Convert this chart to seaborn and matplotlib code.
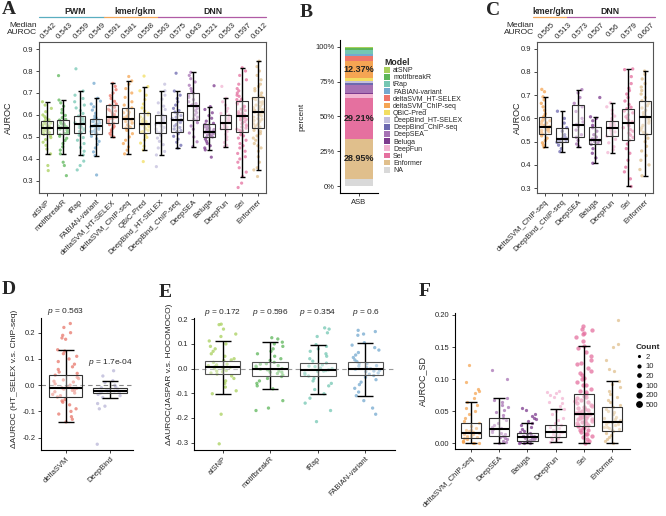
import numpy as np
import pandas as pd
import matplotlib.pyplot as plt
import seaborn as sns
from matplotlib.patches import Patch
from matplotlib.lines import Line2D
from matplotlib.transforms import blended_transform_factory
from matplotlib.ticker import FormatStrFormatter

sns.set_style('ticks')
plt.rcParams['font.family'] = ['Liberation Sans', 'DejaVu Sans']
plt.rcParams['mathtext.fontset'] = 'custom'
plt.rcParams['mathtext.it'] = 'Liberation Sans:italic'
plt.rcParams['mathtext.rm'] = 'Liberation Sans'

colors = {
    'atSNP': '#A8D05C', 'motifbreakR': '#5DB65A', 'tRap': '#74C7B3', 'FABIAN-variant': '#74A9CF',
    'deltaSVM_HT-SELEX': '#EE766A', 'deltaSVM_ChIP-seq': '#F5A553', 'QBiC-Pred': '#F2DE62',
    'DeepBind_HT-SELEX': '#C3BFDD', 'DeepBind_ChIP-seq': '#6C69AF', 'DeepSEA': '#A772B4',
    'Beluga': '#7D3B8E', 'DeepFun': '#F2B5D2', 'Sei': '#E5709F', 'Enformer': '#E0BF8C', 'NA': '#D9D9D9',
}

# ---------------- panel A: AUROC per model ----------------
a_models = ['atSNP', 'motifbreakR', 'tRap', 'FABIAN-variant', 'deltaSVM_HT-SELEX', 'deltaSVM_ChIP-seq',
            'QBiC-Pred', 'DeepBind_HT-SELEX', 'DeepBind_ChIP-seq', 'DeepSEA', 'Beluga', 'DeepFun', 'Sei', 'Enformer']
a_med = [0.542, 0.543, 0.559, 0.549, 0.591, 0.581, 0.558, 0.563, 0.575, 0.643, 0.521, 0.563, 0.597, 0.612]
a_q1 = [0.512, 0.512, 0.517, 0.512, 0.562, 0.540, 0.520, 0.517, 0.523, 0.577, 0.499, 0.535, 0.523, 0.541]
a_q3 = [0.573, 0.577, 0.595, 0.582, 0.644, 0.632, 0.608, 0.599, 0.613, 0.699, 0.558, 0.599, 0.662, 0.680]
a_lo = [0.423, 0.423, 0.418, 0.415, 0.500, 0.423, 0.441, 0.418, 0.449, 0.456, 0.441, 0.456, 0.320, 0.350]
a_hi = [0.660, 0.668, 0.709, 0.676, 0.744, 0.755, 0.729, 0.710, 0.709, 0.794, 0.638, 0.676, 0.815, 0.845]
a_points = {
    'atSNP': [0.66, 0.645, 0.63, 0.615, 0.60, 0.592, 0.585, 0.578, 0.573, 0.568, 0.563, 0.558, 0.553, 0.549, 0.546,
              0.544, 0.541, 0.537, 0.533, 0.529, 0.524, 0.519, 0.515, 0.512, 0.505, 0.497, 0.488, 0.476, 0.462,
              0.445, 0.423, 0.37, 0.347, 0.55, 0.535, 0.56, 0.52],
    'motifbreakR': [0.779, 0.668, 0.655, 0.64, 0.625, 0.61, 0.598, 0.588, 0.58, 0.577, 0.571, 0.565, 0.559, 0.554,
                    0.549, 0.546, 0.543, 0.539, 0.535, 0.53, 0.525, 0.52, 0.516, 0.512, 0.503, 0.494, 0.484, 0.47,
                    0.455, 0.44, 0.423, 0.385, 0.37, 0.324, 0.55, 0.532, 0.56, 0.52],
    'tRap': [0.81, 0.709, 0.69, 0.675, 0.66, 0.645, 0.632, 0.62, 0.607, 0.595, 0.588, 0.581, 0.574, 0.568, 0.562,
             0.559, 0.555, 0.549, 0.543, 0.537, 0.531, 0.525, 0.52, 0.517, 0.508, 0.497, 0.485, 0.47, 0.452, 0.435,
             0.418, 0.39, 0.37, 0.35, 0.565, 0.545, 0.58],
    'FABIAN-variant': [0.744, 0.676, 0.663, 0.65, 0.637, 0.622, 0.608, 0.595, 0.586, 0.582, 0.576, 0.57, 0.564,
                       0.558, 0.553, 0.549, 0.546, 0.541, 0.535, 0.529, 0.524, 0.519, 0.515, 0.512, 0.503, 0.492,
                       0.48, 0.466, 0.45, 0.432, 0.415, 0.327, 0.555, 0.54, 0.57, 0.525],
    'deltaSVM_HT-SELEX': [0.744, 0.73, 0.715, 0.70, 0.688, 0.675, 0.662, 0.65, 0.644, 0.635, 0.626, 0.618, 0.61,
                          0.602, 0.596, 0.593, 0.589, 0.583, 0.577, 0.571, 0.566, 0.562, 0.556, 0.548, 0.54, 0.532,
                          0.524, 0.516, 0.508, 0.50, 0.6, 0.585, 0.62],
    'deltaSVM_ChIP-seq': [0.775, 0.755, 0.74, 0.72, 0.70, 0.68, 0.66, 0.645, 0.632, 0.622, 0.612, 0.602, 0.594,
                          0.587, 0.583, 0.581, 0.577, 0.57, 0.562, 0.555, 0.548, 0.543, 0.54, 0.53, 0.515, 0.50,
                          0.485, 0.47, 0.455, 0.44, 0.423, 0.59, 0.565, 0.61],
    'QBiC-Pred': [0.777, 0.729, 0.71, 0.69, 0.67, 0.65, 0.632, 0.618, 0.608, 0.6, 0.591, 0.582, 0.574, 0.566, 0.56,
                  0.558, 0.555, 0.548, 0.542, 0.536, 0.53, 0.525, 0.521, 0.51, 0.498, 0.486, 0.472, 0.458, 0.441,
                  0.388, 0.57, 0.545],
    'DeepBind_HT-SELEX': [0.74, 0.71, 0.69, 0.672, 0.655, 0.64, 0.625, 0.61, 0.599, 0.592, 0.585, 0.578, 0.572,
                          0.567, 0.565, 0.562, 0.557, 0.55, 0.543, 0.536, 0.53, 0.524, 0.519, 0.508, 0.495, 0.48,
                          0.465, 0.45, 0.434, 0.418, 0.365],
    'DeepBind_ChIP-seq': [0.79, 0.709, 0.69, 0.675, 0.66, 0.645, 0.63, 0.62, 0.613, 0.605, 0.597, 0.59, 0.583,
                          0.578, 0.575, 0.571, 0.565, 0.557, 0.55, 0.543, 0.536, 0.529, 0.524, 0.515, 0.503, 0.49,
                          0.476, 0.462, 0.449],
    'DeepSEA': [0.794, 0.78, 0.765, 0.75, 0.735, 0.72, 0.708, 0.699, 0.69, 0.68, 0.67, 0.66, 0.652, 0.646, 0.643,
                0.638, 0.63, 0.62, 0.61, 0.6, 0.59, 0.582, 0.577, 0.565, 0.55, 0.535, 0.518, 0.5, 0.478, 0.456],
    'Beluga': [0.733, 0.638, 0.625, 0.61, 0.597, 0.585, 0.572, 0.562, 0.558, 0.552, 0.546, 0.54, 0.534, 0.529,
               0.525, 0.521, 0.518, 0.514, 0.51, 0.506, 0.503, 0.5, 0.499, 0.49, 0.48, 0.47, 0.46, 0.45, 0.441,
               0.408, 0.53, 0.515, 0.54],
    'DeepFun': [0.73, 0.676, 0.66, 0.645, 0.63, 0.617, 0.607, 0.599, 0.592, 0.585, 0.579, 0.574, 0.569, 0.565,
                0.563, 0.56, 0.556, 0.551, 0.546, 0.541, 0.537, 0.535, 0.525, 0.512, 0.5, 0.488, 0.475, 0.462,
                0.456],
    'Sei': [0.815, 0.80, 0.78, 0.76, 0.74, 0.72, 0.70, 0.685, 0.672, 0.662, 0.65, 0.638, 0.626, 0.615, 0.605, 0.6,
            0.597, 0.59, 0.578, 0.566, 0.555, 0.545, 0.535, 0.528, 0.523, 0.505, 0.485, 0.46, 0.435, 0.41, 0.385,
            0.36, 0.34, 0.32, 0.29, 0.27, 0.64, 0.61, 0.58, 0.56, 0.54, 0.62, 0.59, 0.67, 0.655, 0.63, 0.605,
            0.585, 0.57, 0.55, 0.53, 0.51, 0.495, 0.47, 0.45, 0.71, 0.69, 0.425, 0.4],
    'Enformer': [0.845, 0.82, 0.80, 0.78, 0.76, 0.74, 0.72, 0.70, 0.688, 0.68, 0.67, 0.658, 0.645, 0.633, 0.622,
                 0.615, 0.612, 0.605, 0.595, 0.583, 0.571, 0.56, 0.55, 0.541, 0.525, 0.505, 0.485, 0.46, 0.435,
                 0.41, 0.385, 0.36, 0.35, 0.32, 0.65, 0.63, 0.6, 0.58, 0.56, 0.62, 0.675, 0.66, 0.64, 0.625,
                 0.61, 0.59, 0.575, 0.555, 0.545, 0.53, 0.515, 0.495, 0.47, 0.73, 0.71, 0.45],
}

# ---------------- panel B: share of best model ----------------
b_models = ['atSNP', 'motifbreakR', 'tRap', 'FABIAN-variant', 'deltaSVM_HT-SELEX', 'deltaSVM_ChIP-seq',
            'QBiC-Pred', 'DeepBind_HT-SELEX', 'DeepBind_ChIP-seq', 'DeepSEA', 'Beluga', 'DeepFun', 'Sei',
            'Enformer', 'NA']
b_pct = [1.0, 1.5, 2.4, 1.7, 3.6, 12.37, 1.9, 1.2, 1.7, 5.5, 0.8, 3.1, 29.21, 28.95, 5.07]

# ---------------- panel C ----------------
c_models = ['deltaSVM_ChIP-seq', 'DeepBind_ChIP-seq', 'DeepSEA', 'Beluga', 'DeepFun', 'Sei', 'Enformer']
c_med = [0.565, 0.513, 0.573, 0.507, 0.56, 0.579, 0.607]
c_q1 = [0.533, 0.497, 0.519, 0.489, 0.524, 0.507, 0.531]
c_q3 = [0.604, 0.560, 0.656, 0.561, 0.590, 0.641, 0.676]
c_lo = [0.476, 0.457, 0.479, 0.407, 0.453, 0.307, 0.353]
c_hi = [0.693, 0.631, 0.724, 0.607, 0.667, 0.813, 0.804]
c_points = {
    'deltaSVM_ChIP-seq': [0.725, 0.715, 0.693, 0.68, 0.665, 0.65, 0.635, 0.62, 0.61, 0.604, 0.598, 0.592, 0.586,
                          0.58, 0.575, 0.57, 0.566, 0.563, 0.56, 0.556, 0.552, 0.548, 0.543, 0.538, 0.533, 0.525,
                          0.515, 0.505, 0.495, 0.485, 0.476, 0.57, 0.59, 0.55],
    'DeepBind_ChIP-seq': [0.631, 0.6, 0.58, 0.56, 0.545, 0.53, 0.52, 0.515, 0.513, 0.51, 0.505, 0.5, 0.497, 0.485,
                          0.47, 0.457],
    'DeepSEA': [0.724, 0.71, 0.69, 0.665, 0.65, 0.63, 0.6, 0.585, 0.574, 0.565, 0.55, 0.53, 0.519, 0.505, 0.49,
                0.479],
    'Beluga': [0.69, 0.607, 0.6, 0.59, 0.57, 0.56, 0.545, 0.53, 0.52, 0.512, 0.51, 0.507, 0.505, 0.5, 0.495,
               0.489, 0.47, 0.45, 0.43, 0.407],
    'DeepFun': [0.667, 0.65, 0.635, 0.62, 0.61, 0.6, 0.59, 0.583, 0.577, 0.571, 0.566, 0.561, 0.558, 0.553, 0.548,
                0.542, 0.535, 0.528, 0.524, 0.51, 0.495, 0.478, 0.465, 0.453],
    'Sei': [0.813, 0.81, 0.78, 0.75, 0.73, 0.72, 0.705, 0.69, 0.675, 0.66, 0.648, 0.641, 0.632, 0.624, 0.615, 0.607,
            0.6, 0.592, 0.585, 0.579, 0.574, 0.567, 0.56, 0.552, 0.545, 0.537, 0.528, 0.518, 0.507, 0.49, 0.47,
            0.45, 0.42, 0.39, 0.37, 0.34, 0.307],
    'Enformer': [0.804, 0.79, 0.77, 0.75, 0.735, 0.72, 0.705, 0.69, 0.676, 0.665, 0.655, 0.645, 0.635, 0.625,
                 0.615, 0.607, 0.6, 0.59, 0.58, 0.57, 0.56, 0.55, 0.54, 0.531, 0.515, 0.5, 0.48, 0.46, 0.44, 0.42,
                 0.4, 0.38, 0.353],
}

# ---------------- panel D ----------------
d_models = ['deltaSVM', 'DeepBind']
d_colors = {'deltaSVM': '#E8776B', 'DeepBind': '#B9B6D7'}
d_med = [-0.012, -0.023]
d_q1 = [-0.045, -0.030]
d_q3 = [0.038, -0.010]
d_lo = [-0.140, -0.047]
d_hi = [0.135, 0.017]
d_pval = ['0.563', '1.7e-04']
d_points = {
    'deltaSVM': [0.235, 0.22, 0.2, 0.19, 0.18, 0.175, 0.135, 0.13, 0.12, 0.11, 0.1, 0.09, 0.08, 0.07, 0.06, 0.05,
                 0.045, 0.038, 0.03, 0.02, 0.012, 0.005, 0.0, -0.005, -0.01, -0.012, -0.015, -0.02, -0.025, -0.03,
                 -0.035, -0.04, -0.045, -0.055, -0.065, -0.075, -0.09, -0.1, -0.11, -0.12, -0.13, -0.14, 0.025,
                 -0.06, 0.015, -0.02],
    'DeepBind': [0.055, 0.035, 0.017, 0.01, 0.0, -0.005, -0.01, -0.015, -0.018, -0.02, -0.022, -0.023, -0.025,
                 -0.027, -0.03, -0.035, -0.04, -0.047, -0.07, -0.08, -0.09, -0.225],
}

# ---------------- panel E ----------------
e_models = ['atSNP', 'motifbreakR', 'tRap', 'FABIAN-variant']
e_med = [0.005, -0.003, -0.005, -0.003]
e_q1 = [-0.022, -0.032, -0.030, -0.028]
e_q3 = [0.032, 0.025, 0.022, 0.028]
e_lo = [-0.102, -0.082, -0.102, -0.110]
e_hi = [0.112, 0.107, 0.097, 0.105]
e_pval = ['0.172', '0.596', '0.354', '0.6']
e_points = {
    'atSNP': [0.18, 0.178, 0.16, 0.14, 0.13, 0.112, 0.1, 0.09, 0.08, 0.07, 0.06, 0.05, 0.04, 0.032, 0.025, 0.018,
              0.012, 0.008, 0.005, 0.002, -0.003, -0.008, -0.013, -0.018, -0.022, -0.03, -0.04, -0.05, -0.06,
              -0.075, -0.09, -0.102, -0.185, -0.305, 0.015, 0.0, -0.01, 0.035],
    'motifbreakR': [0.125, 0.12, 0.107, 0.1, 0.09, 0.08, 0.07, 0.06, 0.05, 0.04, 0.033, 0.025, 0.018, 0.012, 0.006,
                    0.0, -0.003, -0.006, -0.01, -0.015, -0.02, -0.026, -0.032, -0.04, -0.05, -0.06, -0.07, -0.082,
                    -0.13, -0.16, -0.17, 0.01, -0.005, 0.02, -0.015],
    'tRap': [0.165, 0.16, 0.145, 0.13, 0.097, 0.09, 0.08, 0.07, 0.06, 0.05, 0.04, 0.03, 0.022, 0.015, 0.008, 0.002,
             -0.005, -0.008, -0.012, -0.018, -0.024, -0.03, -0.04, -0.05, -0.06, -0.07, -0.085, -0.102, -0.12,
             -0.14, -0.17, -0.215, 0.0, -0.01, 0.01],
    'FABIAN-variant': [0.155, 0.15, 0.14, 0.135, 0.105, 0.095, 0.085, 0.075, 0.065, 0.055, 0.045, 0.035, 0.028,
                       0.02, 0.012, 0.005, 0.0, -0.003, -0.007, -0.012, -0.018, -0.023, -0.028, -0.035, -0.045,
                       -0.055, -0.065, -0.08, -0.095, -0.11, -0.13, -0.16, -0.185, 0.01, -0.01, 0.02],
}

# ---------------- panel F ----------------
f_models = ['deltaSVM_ChIP-seq', 'DeepSEA', 'Beluga', 'DeepFun', 'Sei', 'Enformer']
f_med = [0.0165, 0.022, 0.0103, 0.018, 0.0454, 0.0325]
f_q1 = [0.0077, 0.0119, 0.0041, 0.0103, 0.0268, 0.019]
f_q3 = [0.031, 0.0387, 0.0155, 0.0278, 0.0773, 0.0567]
f_lo = [0.0, 0.0, 0.0, 0.0026, 0.0, 0.0]
f_hi = [0.065, 0.0706, 0.031, 0.054, 0.152, 0.0964]
f_count = [20, 20, 20, 20, 100, 20]
count_levels = [2, 10, 20, 100, 200, 500]
f_points = {
    'deltaSVM_ChIP-seq': [0.122, 0.096, 0.085, 0.082, 0.078, 0.07, 0.065, 0.06, 0.055, 0.05, 0.045, 0.04, 0.035,
                          0.031, 0.027, 0.024, 0.021, 0.019, 0.017, 0.016, 0.014, 0.012, 0.01, 0.009, 0.0077,
                          0.006, 0.004, 0.003, 0.002, 0.001, 0.0, 0.0, 0.015, 0.02, 0.011],
    'DeepSEA': [0.114, 0.0995, 0.0706, 0.068, 0.065, 0.06, 0.056, 0.052, 0.048, 0.044, 0.04, 0.036, 0.032, 0.028,
                0.025, 0.023, 0.022, 0.02, 0.018, 0.016, 0.014, 0.012, 0.01, 0.008, 0.006, 0.004, 0.002, 0.001],
    'Beluga': [0.055, 0.052, 0.045, 0.042, 0.04, 0.038, 0.035, 0.031, 0.028, 0.025, 0.022, 0.019, 0.017, 0.0155,
               0.014, 0.013, 0.012, 0.011, 0.0103, 0.0095, 0.009, 0.008, 0.007, 0.006, 0.005, 0.0041, 0.003,
               0.002, 0.001, 0.0, 0.0, 0.012, 0.008],
    'DeepFun': [0.082, 0.08, 0.078, 0.075, 0.072, 0.07, 0.065, 0.062, 0.058, 0.054, 0.05, 0.045, 0.04, 0.036,
                0.032, 0.0278, 0.025, 0.023, 0.021, 0.019, 0.018, 0.017, 0.015, 0.013, 0.0115, 0.0103, 0.008,
                0.006, 0.004, 0.0026],
    'Sei': [0.183, 0.178, 0.176, 0.172, 0.17, 0.166, 0.16, 0.152, 0.148, 0.142, 0.136, 0.13, 0.124, 0.118, 0.112,
            0.106, 0.1, 0.095, 0.09, 0.085, 0.08, 0.0773, 0.074, 0.07, 0.066, 0.062, 0.058, 0.055, 0.052, 0.049,
            0.047, 0.0454, 0.043, 0.041, 0.039, 0.037, 0.035, 0.033, 0.031, 0.029, 0.0268, 0.024, 0.021, 0.018,
            0.015, 0.012, 0.009, 0.006, 0.003, 0.0, 0.06, 0.05, 0.04, 0.065, 0.11, 0.09, 0.02, 0.035, 0.072,
            0.068, 0.056, 0.053, 0.046, 0.044, 0.038, 0.032, 0.028, 0.025, 0.102, 0.082, 0.125, 0.014],
    'Enformer': [0.192, 0.155, 0.15, 0.13, 0.115, 0.113, 0.0964, 0.092, 0.087, 0.082, 0.077, 0.072, 0.068, 0.064,
                 0.06, 0.0567, 0.053, 0.049, 0.045, 0.041, 0.038, 0.035, 0.0325, 0.03, 0.028, 0.026, 0.024, 0.022,
                 0.019, 0.016, 0.013, 0.01, 0.007, 0.004, 0.001, 0.04, 0.03, 0.025, 0.036, 0.033, 0.021, 0.05],
}

W, H = 666, 516


def px_axes(x0, y0, x1, y1):
    # axes rectangle from pixel box (top-left origin)
    return fig.add_axes([x0 / W, 1 - y1 / H, (x1 - x0) / W, (y1 - y0) / H])


def to_long(points, names):
    return pd.DataFrame({'model': np.repeat(names, [len(points[n]) for n in names]),
                         'value': np.concatenate([points[n] for n in names])})


def box_strip(ax, names, points, q1, med, q3, lo, hi, pal, box_w=0.72, cap=2.0, dot=2.0,
              dot_sizes=None, edge='#333333'):
    df = to_long(points, names)
    if dot_sizes is None:
        sns.stripplot(data=df, x='model', y='value', hue='model', order=names, hue_order=names, palette=pal,
                      jitter=0.3, size=dot, alpha=0.75, linewidth=0, legend=False, ax=ax, zorder=1)
    else:
        for n, s in zip(names, dot_sizes):
            sns.stripplot(data=df[df.model == n], x='model', y='value', order=names, color=pal[n],
                          jitter=0.3, size=s, alpha=0.75, linewidth=0, ax=ax, zorder=1)
    pos = np.arange(len(names))
    med = np.asarray(med)
    ax.errorbar(pos, med, yerr=[med - np.asarray(lo), np.asarray(hi) - med], fmt='none', ecolor='black',
                elinewidth=1.0, capsize=cap, capthick=1.0, zorder=3)
    stats = [dict(med=m, q1=a, q3=b, whislo=a, whishi=b, fliers=[]) for m, a, b in zip(med, q1, q3)]
    ax.bxp(stats, positions=pos, widths=box_w, patch_artist=True, showcaps=False, showfliers=False,
           manage_ticks=False, zorder=4,
           boxprops=dict(facecolor=(1, 1, 1, 0.35), edgecolor=edge, linewidth=0.8),
           medianprops=dict(color='black', linewidth=1.5), whiskerprops=dict(linewidth=0))
    ax.set_xlim(-0.5, len(names) - 0.5)
    ax.set_xticks(pos)
    ax.set_xticklabels(names, rotation=45, ha='right', rotation_mode='anchor', fontsize=5.8)
    ax.set_xlabel('')
    ax.tick_params(length=2.5, width=0.6, labelsize=5.5, pad=1.5)


def style_frame(ax):
    for s in ax.spines.values():
        s.set_color('#555555')
        s.set_linewidth(0.8)


def style_classic(ax):
    sns.despine(ax=ax)
    for s in ['left', 'bottom']:
        ax.spines[s].set_color('black')
        ax.spines[s].set_linewidth(0.8)


def headers(ax, medians, groups):
    tr = blended_transform_factory(ax.transData, ax.transAxes)
    for i, v in enumerate(medians):
        ax.text(i + 0.12, 1.075, f'{v}', transform=tr, rotation=45, ha='center', va='center', fontsize=5.8)
    for label, xc, x0, x1, col in groups:
        ax.text(xc, 1.205, label, transform=tr, ha='center', va='center', fontsize=6.3, fontweight='bold')
        ax.plot([x0, x1], [1.166, 1.166], transform=tr, color=col, lw=0.9, clip_on=False)


fig = plt.figure(figsize=(W / 100, H / 100), dpi=100)

letter_kw = dict(fontsize=14, fontweight='bold', family='Liberation Serif', va='top', ha='left')

# ---- A ----
axA = px_axes(39, 42, 266, 193)
box_strip(axA, a_models, a_points, a_q1, a_med, a_q3, a_lo, a_hi, colors, box_w=0.72, cap=1.8, dot=2.3)
axA.set_ylim(0.245, 0.932)
axA.set_yticks([0.3, 0.4, 0.5, 0.6, 0.7, 0.8, 0.9])
axA.yaxis.set_major_formatter(FormatStrFormatter('%.1f'))
axA.set_ylabel('AUROC', fontsize=6.5)
axA.yaxis.set_label_coords(-0.115, 0.5)
style_frame(axA)
headers(axA, a_med, [('PWM', 1.72, -0.5, 3.5, '#5AAEC0'),
                     ('kmer/gkm', 5.43, 3.5, 6.85, '#F2A65A'),
                     ('DNN', 10.24, 6.85, 13.5, '#B05BA5')])
fig.text(37 / W, 1 - 29 / H, 'Median\nAUROC', ha='right', va='center', fontsize=6, linespacing=1.15)
fig.text(2 / W, 1 - 1 / H, 'A', **letter_kw)

# ---- B ----
axB = px_axes(340, 40, 378, 193)
bottom = 0.0
for m, p in zip(b_models[::-1], b_pct[::-1]):
    axB.bar([0], [p / 100], bottom=bottom, width=0.9, color=colors[m], linewidth=0)
    if p > 10:
        axB.text(0, bottom + p / 200, f'{p:.2f}%', ha='center', va='center', fontsize=6.5,
                 fontweight='bold', color='#222222')
    bottom += p / 100
axB.set_xlim(-0.6, 0.6)
axB.set_ylim(-0.05, 1.05)
axB.set_yticks([0, 0.25, 0.5, 0.75, 1.0])
axB.set_yticklabels(['0%', '25%', '50%', '75%', '100%'])
axB.set_xticks([0])
axB.set_xticklabels(['ASB'], fontsize=6.5)
axB.set_ylabel('percent', fontsize=6)
axB.yaxis.set_label_coords(-0.92, 0.5)
axB.tick_params(length=2.5, width=0.6, labelsize=5.5, pad=1.5)
style_classic(axB)
handles = [Patch(facecolor=colors[m], edgecolor='none') for m in b_models]
fig.legend(handles, b_models, loc='upper left', bbox_to_anchor=(384 / W, 1 - 58 / H), frameon=False,
           fontsize=5, title='Model', title_fontproperties={'weight': 'bold', 'size': 6.3}, alignment='left',
           handlelength=0.9, handleheight=0.9, handletextpad=0.4, labelspacing=-0.02, borderpad=0,
           borderaxespad=0)
fig.text(300 / W, 1 - 4 / H, 'B', **letter_kw)

# ---- C ----
axC = px_axes(537, 42, 653, 193)
box_strip(axC, c_models, c_points, c_q1, c_med, c_q3, c_lo, c_hi, colors, box_w=0.72, cap=1.8, dot=2.4)
axC.set_ylim(0.279, 0.929)
axC.set_yticks([0.3, 0.4, 0.5, 0.6, 0.7, 0.8, 0.9])
axC.yaxis.set_major_formatter(FormatStrFormatter('%.1f'))
axC.set_ylabel('AUROC', fontsize=6.5)
axC.yaxis.set_label_coords(-0.13, 0.5)
style_frame(axC)
headers(axC, c_med, [('kmer/gkm', 0.46, -0.74, 1.31, '#F2A65A'),
                     ('DNN', 3.9, 1.31, 6.6, '#B05BA5')])
fig.text(534 / W, 1 - 29 / H, 'Median\nAUROC', ha='right', va='center', fontsize=6, linespacing=1.15)
fig.text(486 / W, 1 - 2 / H, 'C', **letter_kw)

# ---- D ----
axD = px_axes(41, 318, 133, 450)
box_strip(axD, d_models, d_points, d_q1, d_med, d_q3, d_lo, d_hi, d_colors, box_w=0.75, cap=5.5, dot=2.4)
axD.set_xlim(-0.56, 1.52)
axD.set_ylim(-0.247, 0.256)
axD.set_yticks([-0.2, -0.1, 0.0, 0.1, 0.2])
axD.yaxis.set_major_formatter(FormatStrFormatter('%.1f'))
axD.axhline(0, color='#888888', lw=0.8, ls=(0, (4, 3)), zorder=2)
axD.set_ylabel('ΔAUROC (HT_SELEX v.s. ChIP-seq)', fontsize=6)
axD.yaxis.set_label_coords(-0.25, 0.54)
axD.text(0, 0.279, f'$p$ = {d_pval[0]}', ha='center', va='center', fontsize=6, clip_on=False)
axD.text(1, 0.088, f'$p$ = {d_pval[1]}', ha='center', va='center', fontsize=6, clip_on=False)
style_classic(axD)
fig.text(2 / W, 1 - 281 / H, 'D', **letter_kw)

# ---- E ----
axE = px_axes(194, 318, 395, 450)
e_pal = {m: colors[m] for m in e_models}
box_strip(axE, e_models, e_points, e_q1, e_med, e_q3, e_lo, e_hi, e_pal, box_w=0.75, cap=6, dot=2.4,
          edge='#555555')
axE.set_xlim(-0.6, 3.62)
axE.set_ylim(-0.33, 0.205)
axE.set_yticks([-0.3, -0.2, -0.1, 0.0, 0.1, 0.2])
axE.yaxis.set_major_formatter(FormatStrFormatter('%.1f'))
axE.axhline(0, color='#999999', lw=0.8, ls=(0, (4, 3)), zorder=2)
axE.set_ylabel('ΔAUROC(JASPAR v.s. HOCOMOCO)', fontsize=6)
axE.yaxis.set_label_coords(-0.105, 0.57)
for i, p in enumerate(e_pval):
    axE.text(i, 0.228, f'$p$ = {p}', ha='center', va='center', fontsize=6, clip_on=False)
style_classic(axE)
fig.text(159 / W, 1 - 284 / H, 'E', **letter_kw)

# ---- F ----
def count_ms(c):
    return 0.9 + 1.1 * np.log10(c)


axF = px_axes(455, 313, 630, 449)
box_strip(axF, f_models, f_points, f_q1, f_med, f_q3, f_lo, f_hi, colors, box_w=0.72, cap=4.4,
          dot_sizes=[count_ms(c) for c in f_count])
axF.set_xlim(-0.57, 5.64)
axF.set_ylim(-0.009, 0.203)
axF.set_yticks([0, 0.05, 0.10, 0.15, 0.20])
axF.yaxis.set_major_formatter(FormatStrFormatter('%.2f'))
axF.set_ylabel('AUROC_SD', fontsize=6.5)
axF.yaxis.set_label_coords(-0.16, 0.5)
style_classic(axF)
count_handles = [Line2D([], [], marker='o', ls='', color='black', markersize=count_ms(c)) for c in count_levels]
fig.legend(count_handles, [str(c) for c in count_levels], loc='upper left', bbox_to_anchor=(636 / W, 1 - 344 / H),
           frameon=False, fontsize=5.5, title='Count', title_fontproperties={'weight': 'bold', 'size': 6},
           alignment='left', handlelength=0.8, handletextpad=0.5, labelspacing=0.3, borderpad=0,
           borderaxespad=0)
fig.text(419 / W, 1 - 283 / H, 'F', **letter_kw)

fig.savefig('out.png', dpi=100)
